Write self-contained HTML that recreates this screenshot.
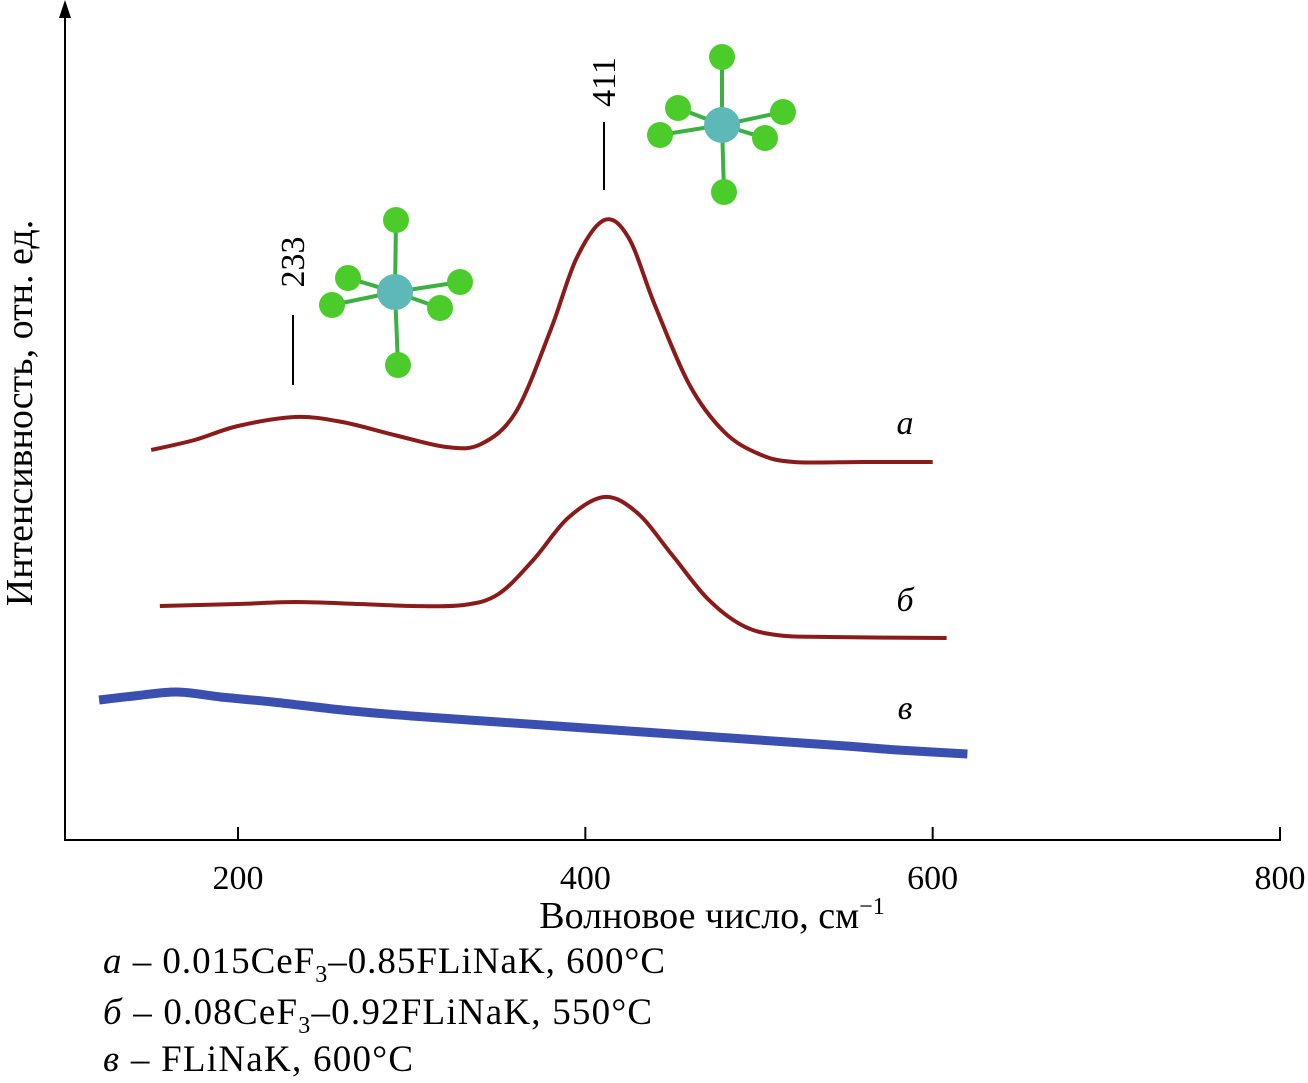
<!DOCTYPE html>
<html><head><meta charset="utf-8"><style>
body{margin:0;background:#fff;}
svg{display:block;font-family:"Liberation Serif","DejaVu Serif",serif;}
</style></head><body>
<svg width="1308" height="1083" viewBox="0 0 1308 1083">
<g id="axes"></g>
<g id="series"></g>
<g id="mols"></g>
<text x="32" y="413" font-size="38" text-anchor="middle" transform="rotate(-90 32 413)">Интенсивность, отн. ед.</text>
<text x="712" y="928" font-size="38" text-anchor="middle">Волновое число, см<tspan dy="-14" font-size="24">−1</tspan></text>
<text x="905" y="434" font-size="34" font-style="italic" text-anchor="middle">a</text>
<text x="905" y="611" font-size="34" font-style="italic" text-anchor="middle">б</text>
<text x="905" y="719" font-size="34" font-style="italic" text-anchor="middle">в</text>
<g font-size="37">
<text x="103" y="973" textLength="562" lengthAdjust="spacing"><tspan font-style="italic">a</tspan> – 0.015CeF<tspan dy="9" font-size="24">3</tspan><tspan dy="-9">–0.85FLiNaK, 600°C</tspan></text>
<text x="103" y="1024" textLength="549" lengthAdjust="spacing"><tspan font-style="italic">б</tspan> – 0.08CeF<tspan dy="9" font-size="24">3</tspan><tspan dy="-9">–0.92FLiNaK, 550°C</tspan></text>
<text x="103" y="1071" textLength="310" lengthAdjust="spacing"><tspan font-style="italic">в</tspan> – FLiNaK, 600°C</text>
</g>
<line x1="293" y1="315" x2="293" y2="385" stroke="#000" stroke-width="2"/>
<text x="304" y="262" font-size="34" text-anchor="middle" transform="rotate(-90 304 262)">233</text>
<line x1="604" y1="122" x2="604" y2="190" stroke="#000" stroke-width="2"/>
<text x="615" y="82" font-size="34" text-anchor="middle" transform="rotate(-90 615 82)">411</text>
</svg>
<script>
const ticks=[200,400,600,800];
const catA_v=[150,175,200,233,260,290,320,340,360,380,395,411,425,440,460,480,500,520,560,600];
const serA=[390,400,414,423,418,405,393,396,428,510,582,620,602,535,455,408,386,378,378,378];
const catB_v=[155,200,233,270,300,330,350,370,390,411,430,450,470,490,510,540,608];
const serB=[234,236,238,236,234,235,246,280,322,343,327,285,242,215,205,203,202];
const catC_v=[120,140,165,190,220,260,300,350,400,450,500,550,580,620];
const serC=[140,144,148,143,138,130,124,118,112,106,100,94,90,86];
const NS="http://www.w3.org/2000/svg";
const X=v=>238+(v-200)*1.7367;
const Y=i=>840-i;
function mk(tag,attrs,parent){const e=document.createElementNS(NS,tag);for(const k in attrs)e.setAttribute(k,attrs[k]);parent.appendChild(e);return e;}
const axes=document.getElementById('axes');
const xa=mk('line',{x1:65,y1:840,x2:1281,y2:840,stroke:'#000','stroke-width':2},axes);


const ya=mk('line',{x1:65,y1:841,x2:65,y2:12,stroke:'#000','stroke-width':2},axes);


const ar=mk('polygon',{points:'65,0 59,18 71,18',fill:'#000'},axes);


ticks.forEach(t=>{
 const l=mk('line',{x1:X(t),y1:840,x2:X(t),y2:827,stroke:'#000','stroke-width':2},axes);
 
 
 const tx=mk('text',{x:X(t),y:889,'font-size':34,'text-anchor':'middle'},axes);
 tx.textContent=t;
 
 
});
function path(vs,is){
 const p=vs.map((v,i)=>[X(v),Y(is[i])]);
 let d='M'+p[0][0]+','+p[0][1];
 for(let i=0;i<p.length-1;i++){
  const p0=p[i-1]||p[i],p1=p[i],p2=p[i+1],p3=p[i+2]||p2;
  const c1=[p1[0]+(p2[0]-p0[0])/6,p1[1]+(p2[1]-p0[1])/6];
  const c2=[p2[0]-(p3[0]-p1[0])/6,p2[1]-(p3[1]-p1[1])/6];
  d+=` C${c1},${c2},${p2}`;
 }
 return d;
}
const sg=document.getElementById('series');
const pa=mk('path',{d:path(catA_v,serA),fill:'none',stroke:'#8b1a1a','stroke-width':4},sg);


const pb=mk('path',{d:path(catB_v,serB),fill:'none',stroke:'#8b1a1a','stroke-width':4},sg);


const pc=mk('path',{d:path(catC_v,serC),fill:'none',stroke:'#3a4fb0','stroke-width':9},sg);


const mg=document.getElementById('mols');
function mol(cx,cy,atoms,name){
 const g=mk('g',{},mg);
 
 
 atoms.forEach(a=>mk('line',{x1:cx,y1:cy,x2:cx+a[0],y2:cy+a[1],stroke:'#3cb043','stroke-width':4},g));
 atoms.forEach(a=>mk('circle',{cx:cx+a[0],cy:cy+a[1],r:13,fill:'#4ccc2a'},g));
 mk('circle',{cx:cx,cy:cy,r:18,fill:'#5fb8b8'},g);
}
mol(722,125,[[0,-68],[2,67],[-44,-17],[-62,10],[61,-13],[43,13]],'cef6-molecule-411');
mol(395,292,[[1,-72],[3,73],[-47,-14],[-63,13],[65,-10],[45,16]],'cef6-molecule-233');
</script>
</body></html>
